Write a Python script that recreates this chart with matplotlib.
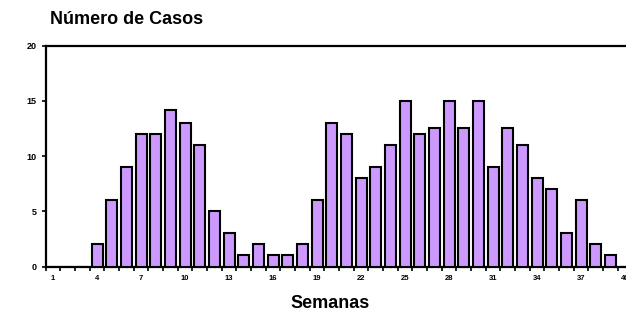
import matplotlib
matplotlib.use("Agg")
import matplotlib.pyplot as plt
import numpy as np

# weekly case counts, weeks 1..40
semanas = list(range(1, 41))
casos = [0, 0, 0, 2, 6, 9, 12, 12, 14.2, 13,
         11, 5, 3, 1, 2, 1, 1, 2, 6, 13,
         12, 8, 9, 11, 15, 12, 12.5, 15, 12.5, 15,
         9, 12.5, 11, 8, 7, 3, 6, 2, 1, 0]
etiquetas = [1, 4, 7, 10, 13, 16, 19, 22, 25, 28, 31, 34, 37, 40]

plt.rcParams['font.family'] = ['Liberation Sans', 'DejaVu Sans']
plt.rcParams['font.weight'] = 'bold'

fig = plt.figure(figsize=(6.26, 3.12), dpi=100)
ax = fig.add_axes([45.7 / 626, 45.5 / 312, 586.8 / 626, 221 / 312])

ax.bar(semanas, casos, width=0.75, color='#CC99FF', edgecolor='black',
       linewidth=1.5, zorder=3)

ax.set_xlim(0.5, 40.5)
ax.set_ylim(0, 20)

# ticks between categories, labels at the category centres
ax.set_xticks(np.arange(0.5, 41, 1))
ax.set_xticklabels([])
ax.set_xticks(etiquetas, minor=True)
ax.set_xticklabels([str(e) for e in etiquetas], minor=True, fontsize=5.5,
                   fontweight='bold')
ax.tick_params(axis='x', which='major', length=3, width=1.2, direction='out')
ax.tick_params(axis='x', which='minor', length=0, pad=6)

ax.set_yticks([0, 5, 10, 15, 20])
ax.set_yticklabels(['0', '5', '10', '15', '20'], fontsize=6.5, fontweight='bold')
ax.tick_params(axis='y', length=3, width=1.2, direction='out', pad=3.5)

for side in ['left', 'bottom', 'top']:
    ax.spines[side].set_linewidth(1.6)
ax.spines['right'].set_visible(False)

fig.text(50 / 626, 1 - 19 / 312, 'Número de Casos', fontsize=13,
         fontweight='bold', ha='left', va='center')
fig.text(330 / 626, 1 - 304 / 312, 'Semanas', fontsize=13,
         fontweight='bold', ha='center', va='center')

fig.savefig('out.png', dpi=100)
